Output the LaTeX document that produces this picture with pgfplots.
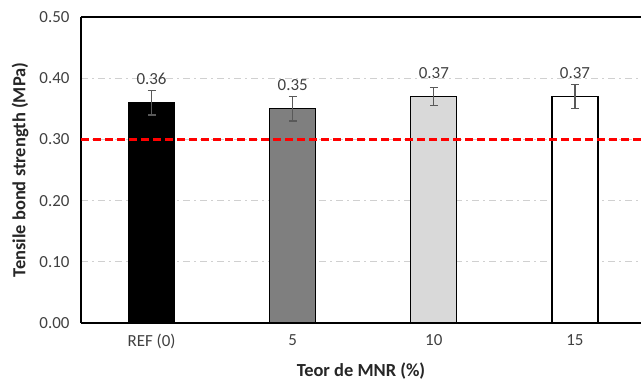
\documentclass[border=0pt]{standalone}
\usepackage{pgfplots}
\pgfplotsset{compat=1.18}
\usepackage{fontspec}
\setmainfont{Carlito}

\definecolor{barmid}{HTML}{7F7F7F}
\definecolor{barlight}{HTML}{D9D9D9}
\definecolor{errgray}{HTML}{595959}
\definecolor{gridgray}{HTML}{D0D0D0}
\definecolor{txtgray}{HTML}{404040}

\tikzset{twodec/.style={/pgf/number format/fixed, /pgf/number format/fixed zerofill, /pgf/number format/precision=2}}
\pgfplotsset{
  /pgf/number format/assume math mode=true,
  strength bar/.style={
    ybar, bar width=0.326, bar shift=0pt,
    draw=black, line width=1.3bp,
    nodes near coords,
    every node near coord/.append style={font=\fontsize{17}{20}\selectfont, text=txtgray, yshift=14bp, twodec},
    error bars/y dir=both, error bars/y explicit,
    error bars/error bar style={errgray, line width=1.3bp},
    error bars/error mark options={errgray, rotate=90, mark size=4bp, line width=1.3bp},
  },
}

\begin{document}
\begin{tikzpicture}
\begin{axis}[
  name=ax,
  scale only axis, width=560bp, height=306bp,
  xmin=-0.5, xmax=3.468, ymin=0, ymax=0.5,
  axis x line*=box, axis y line*=left,
  axis line style={black, line width=1.2bp},
  xtick={0,1,2,3}, xticklabels={REF (0),5,10,15},
  ytick={0,0.1,0.2,0.3,0.4,0.5},
  yticklabel style={twodec, xshift=-8bp},
  major tick length=0pt,
  ymajorgrids,
  major grid style={gridgray, line width=1.1bp, dash pattern=on 7bp off 4bp on 2bp off 4bp},
  tick label style={font=\fontsize{17}{20}\selectfont, text=txtgray},
  xticklabel style={yshift=-8bp},
  every axis y label/.style={at={(axis description cs:0,0.5)}, xshift=-61bp, rotate=90, anchor=center},
  every axis x label/.style={at={(axis description cs:0.5,0)}, yshift=-48bp, anchor=center},
  label style={font=\bfseries\fontsize{18.5}{22}\selectfont, text=black!85},
  ylabel={Tensile bond strength (MPa)},
  xlabel={Teor de MNR (\%)},
]
% mean strength of each mix with its standard deviation
\addplot[strength bar, fill=black] coordinates {(0,0.36) +- (0,0.02)};
\addplot[strength bar, fill=barmid] coordinates {(1,0.35) +- (0,0.02)};
\addplot[strength bar, fill=barlight] coordinates {(2,0.37) +- (0,0.015)};
\addplot[strength bar, fill=white] coordinates {(3,0.37) +- (0,0.02)};
% minimum required strength
\addplot[red, line width=2.6bp, dash pattern=on 8bp off 4bp, forget plot]
  coordinates {(-0.5,0.3) (3.468,0.3)};
\end{axis}
\pgfresetboundingbox
\path[use as bounding box] ([xshift=-81bp,yshift=-59bp]ax.south west) rectangle ([xshift=560bp,yshift=323bp]ax.south west);
\end{tikzpicture}
\end{document}
